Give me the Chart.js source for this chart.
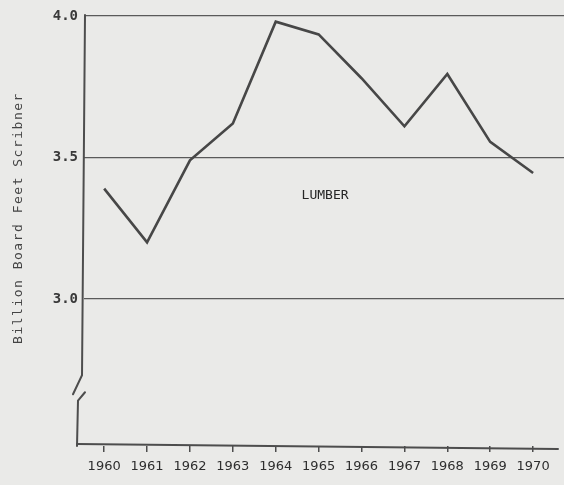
<!DOCTYPE html>
<html>
<head>
<meta charset="utf-8">
<script src="https://cdn.jsdelivr.net/npm/chart.js@4.4.0/dist/chart.umd.min.js"></script>
<style>
  html, body { margin: 0; padding: 0; background: #eaeae8; }
  #lumberChart { display: block; }
</style>
</head>
<body>
<canvas id="lumberChart" width="564" height="485"></canvas>
<script>
// values
const years = [1960, 1961, 1962, 1963, 1964, 1965, 1966, 1967, 1968, 1969, 1970];
const lumber = [3.39, 3.20, 3.49, 3.62, 3.98, 3.935, 3.78, 3.61, 3.795, 3.555, 3.445];
const yTicks = [3.0, 3.5, 4.0];
const seriesLabel = "LUMBER";
const yTitle = "Billion Board Feet Scribner";
const labelAt = { x: 1965.15, y: 3.365 };
const breakAt = [2.73, 2.67, 2.64];

const inkColor = "#4d4d4d";

// paper background, axis lines (with the break on the y axis) and the texts
const paperAndAxes = {
    id: "paperAndAxes",
    beforeDraw(chart) {
        const ctx = chart.ctx;
        ctx.save();
        ctx.fillStyle = "#eaeae8";
        ctx.fillRect(0, 0, chart.width, chart.height);
        ctx.restore();
    },
    afterDatasetsDraw(chart) {
        const ctx = chart.ctx;
        const area = chart.chartArea;
        const y = chart.scales.y;
        const left = area.left;
        const b1 = y.getPixelForValue(breakAt[0]);
        const b2 = y.getPixelForValue(breakAt[1]);
        const b3 = y.getPixelForValue(breakAt[2]);

        ctx.save();
        ctx.strokeStyle = inkColor;
        ctx.lineWidth = 2;
        ctx.lineCap = "round";

        // upper part of y axis
        ctx.beginPath();
        ctx.moveTo(left + 1, area.top - 1);
        ctx.lineTo(left - 2, b1);
        ctx.lineTo(left - 11, b2 + 2);
        ctx.stroke();

        // lower part of y axis
        ctx.beginPath();
        ctx.moveTo(left + 1, b2);
        ctx.lineTo(left - 6, b3);
        ctx.lineTo(left - 7, area.bottom);
        ctx.stroke();

        // x axis
        ctx.beginPath();
        ctx.moveTo(left - 7, area.bottom - 2);
        ctx.lineTo(area.right - 6, area.bottom + 3);
        ctx.stroke();

        // series label
        ctx.fillStyle = "#262626";
        ctx.font = "13px 'DejaVu Sans Mono'";
        ctx.textAlign = "center";
        ctx.textBaseline = "middle";
        ctx.fillText(seriesLabel, chart.scales.x.getPixelForValue(labelAt.x), y.getPixelForValue(labelAt.y));

        // y axis title, typewriter spacing
        ctx.translate(19, 218);
        ctx.rotate(-Math.PI / 2);
        ctx.fillStyle = "#444";
        ctx.font = "13px 'DejaVu Sans Mono'";
        ctx.letterSpacing = "1.5px";
        ctx.fillText(yTitle, 0, 0);
        ctx.restore();
    }
};

new Chart(document.getElementById("lumberChart"), {
    type: "line",
    data: {
        datasets: [{
            label: seriesLabel,
            data: years.map((yr, i) => ({ x: yr, y: lumber[i] })),
            borderColor: "#474747",
            borderWidth: 2.6,
            pointRadius: 0,
            tension: 0,
            fill: false
        }]
    },
    options: {
        responsive: false,
        animation: false,
        layout: { padding: { top: 16, right: 0, left: 0, bottom: 0 } },
        plugins: {
            legend: { display: false },
            tooltip: { enabled: false }
        },
        scales: {
            x: {
                type: "linear",
                min: 1959.53,
                max: 1970.72,
                afterBuildTicks: scale => {
                    scale.ticks = years.map(v => ({ value: v }));
                },
                afterFit: scale => { scale.height = 39; },
                grid: {
                    drawOnChartArea: false,
                    drawTicks: true,
                    tickLength: 6,
                    color: inkColor,
                    lineWidth: 1.5
                },
                border: { display: false },
                ticks: {
                    color: "#2e2e2e",
                    padding: 7,
                    maxRotation: 0,
                    autoSkip: false,
                    font: { family: "DejaVu Sans", size: 13 },
                    callback: v => String(v)
                }
            },
            y: {
                min: 2.48,
                max: 4.0,
                afterBuildTicks: scale => {
                    scale.ticks = yTicks.map(v => ({ value: v }));
                },
                afterFit: scale => { scale.width = 84; },
                grid: {
                    drawTicks: false,
                    color: "#5a5a5a",
                    lineWidth: 1.3
                },
                border: { display: false },
                ticks: {
                    color: "#3a3a3a",
                    padding: 6,
                    font: { family: "DejaVu Sans Mono", size: 14, weight: "bold" },
                    callback: v => v.toFixed(1)
                }
            }
        }
    },
    plugins: [paperAndAxes]
});
</script>
</body>
</html>
